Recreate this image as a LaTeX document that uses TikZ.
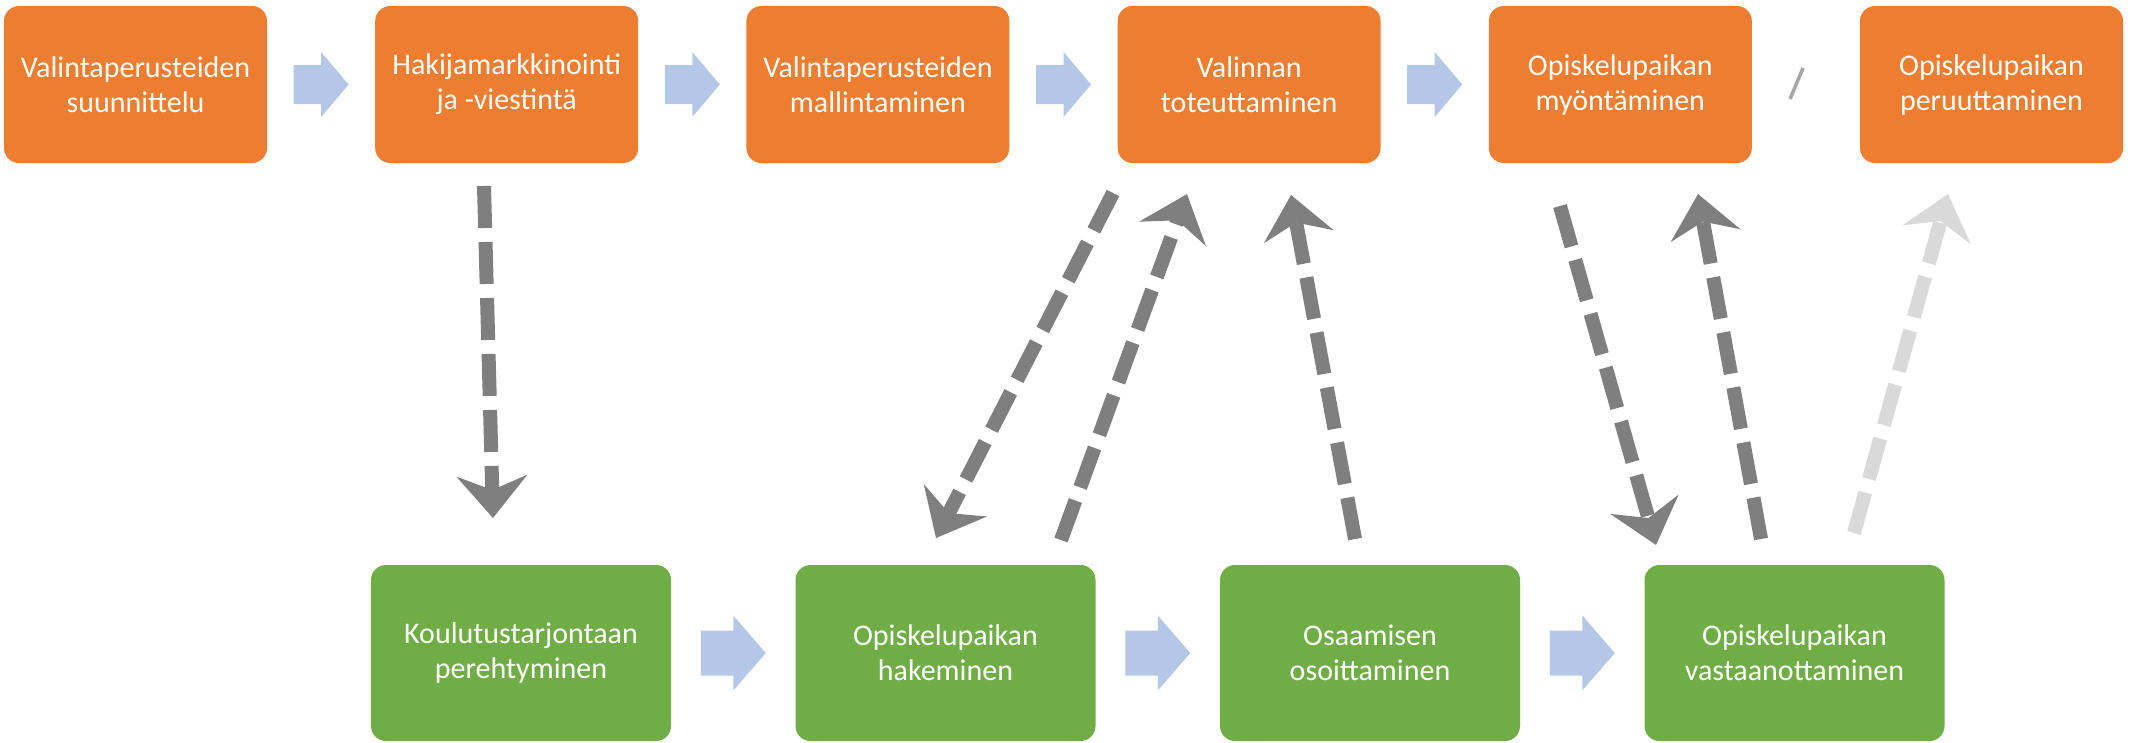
\documentclass[tikz,border=0pt]{standalone}
\usepackage{fontspec}
\setmainfont{Carlito}
\usetikzlibrary{arrows.meta,calc}
\definecolor{boxorange}{HTML}{ED7D31}
\definecolor{boxgreen}{HTML}{70AD47}
\definecolor{flowblue}{HTML}{B4C7E7}
\definecolor{linkgray}{HTML}{7F7F7F}
\definecolor{linklight}{HTML}{D9D9D9}
\definecolor{slashgray}{HTML}{A6A6A6}
\begin{document}
\begin{tikzpicture}[x=1pt,y=-1pt,
  stage/.style={rounded corners=15pt, text=white, align=center, inner sep=0pt,
    font=\fontsize{30}{35}\selectfont},
  topstage/.style={stage, fill=boxorange, minimum width=263pt, minimum height=157pt},
  lowstage/.style={stage, fill=boxgreen, minimum width=300pt, minimum height=176pt},
  link/.style={line width=14pt, dash pattern=on 42pt off 14pt, draw=linkgray,
    -{Stealth[length=42pt,width=70pt,inset=14pt]}},
  pics/flowarrow/.style args={#1/#2/#3}{code={
    \fill[flowblue] (-#1,-#2) -- (0,-#2) -- (0,-#3) -- (#1,0) -- (0,#3) -- (0,#2) -- (-#1,#2) -- cycle;}}
]
\useasboundingbox (0,0) rectangle (2132,742);

% applicant-organisation stages
\node[topstage] (t1) at (135.5,84.5)  {Valintaperusteiden\\suunnittelu};
\node[topstage] (t2) at (506.7,84.5)  {Hakijamarkkinointi\\ja -viestintä};
\node[topstage] (t3) at (877.9,84.5)  {Valintaperusteiden\\mallintaminen};
\node[topstage] (t4) at (1249.1,84.5) {Valinnan\\toteuttaminen};
\node[topstage] (t5) at (1620.3,84.5) {Opiskelupaikan\\myöntäminen};
\node[topstage] (t6) at (1991.5,84.5) {Opiskelupaikan\\peruuttaminen};

% applicant stages
\node[lowstage] (b1) at (521,653)    {Koulutustarjontaan\\perehtyminen};
\node[lowstage] (b2) at (945.5,653)  {Opiskelupaikan\\hakeminen};
\node[lowstage] (b3) at (1370,653)   {Osaamisen\\osoittaminen};
\node[lowstage] (b4) at (1794.5,653) {Opiskelupaikan\\vastaanottaminen};

% block arrows between consecutive stages
\pic at ($(t1.east)!0.5!(t2.west)$) {flowarrow=27.5/19.5/32.5};
\pic at ($(t2.east)!0.5!(t3.west)$) {flowarrow=27.5/19.5/32.5};
\pic at ($(t3.east)!0.5!(t4.west)$) {flowarrow=27.5/19.5/32.5};
\pic at ($(t4.east)!0.5!(t5.west)$) {flowarrow=27.5/19.5/32.5};
\pic at ($(b1.east)!0.5!(b2.west)$) {flowarrow=32.5/22.5/37.5};
\pic at ($(b2.east)!0.5!(b3.west)$) {flowarrow=32.5/22.5/37.5};
\pic at ($(b3.east)!0.5!(b4.west)$) {flowarrow=32.5/22.5/37.5};

% separator between granting and cancelling
\coordinate (s1) at (1803,68);
\coordinate (s2) at (1790,99);
\draw[slashgray, line width=3.5pt] (s1) -- (s2);

% end points of the interaction links
\coordinate (a1s) at (484,186);   \coordinate (a1e) at (493,518);
\coordinate (a2s) at (1113,193);  \coordinate (a2e) at (936,538);
\coordinate (a3s) at (1061,540);  \coordinate (a3e) at (1187,194);
\coordinate (a4s) at (1355,539);  \coordinate (a4e) at (1291,195);
\coordinate (a5s) at (1560,206);  \coordinate (a5e) at (1656,545);
\coordinate (a6s) at (1761,539);  \coordinate (a6e) at (1698,194);
\coordinate (a7s) at (1854,533);  \coordinate (a7e) at (1948,194);

\draw[link] (a1s) -- (a1e);
\draw[link] (a2s) -- (a2e);
\draw[link] (a3s) -- (a3e);
\draw[link] (a4s) -- (a4e);
\draw[link] (a5s) -- (a5e);
\draw[link] (a6s) -- (a6e);
\draw[link, draw=linklight] (a7s) -- (a7e);
\end{tikzpicture}
\end{document}
